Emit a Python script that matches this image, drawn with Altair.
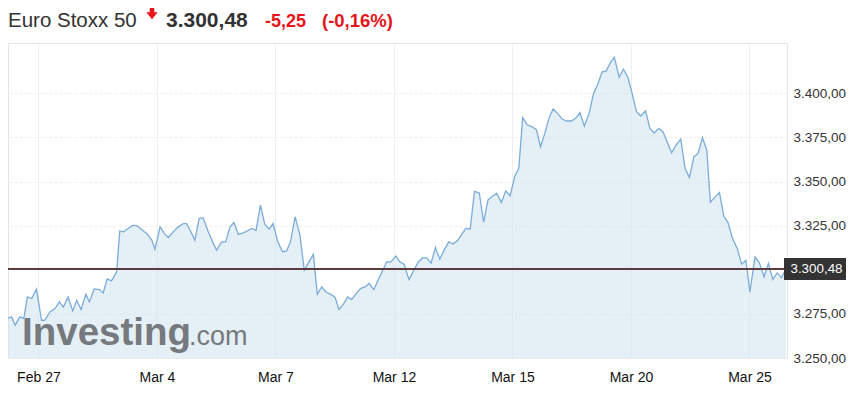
import altair as alt
import pandas as pd

# trading-day position (0 = Feb 27) and price
t = [-0.91, -0.79, -0.68, -0.59, -0.47, -0.37, -0.28, -0.17, -0.05, 0.08,
     0.16, 0.29, 0.42, 0.53, 0.63, 0.75, 0.87, 0.97, 1.08, 1.20,
     1.29, 1.41, 1.54, 1.64, 1.74, 1.85, 1.98, 2.06, 2.16, 2.27,
     2.40, 2.50, 2.61, 2.74, 2.87, 2.95, 3.08, 3.20, 3.29, 3.41,
     3.54, 3.67, 3.75, 3.85, 3.96, 4.07, 4.17, 4.30, 4.41, 4.51,
     4.64, 4.74, 4.85, 4.95, 5.06, 5.16, 5.29, 5.40, 5.51, 5.62,
     5.73, 5.84, 5.94, 6.06, 6.18, 6.28, 6.38, 6.50, 6.62, 6.73,
     6.85, 6.96, 7.06, 7.17, 7.28, 7.40, 7.51, 7.61, 7.72, 7.83,
     7.93, 8.04, 8.16, 8.27, 8.37, 8.49, 8.62, 8.82, 8.92, 9.05,
     9.15, 9.26, 9.38, 9.49, 9.61, 9.72, 9.83, 9.94, 10.05, 10.16,
     10.27, 10.39, 10.50, 10.62, 10.72, 10.82, 10.93, 11.04, 11.16, 11.27,
     11.38, 11.49, 11.60, 11.72, 11.83, 11.94, 12.06, 12.16, 12.26, 12.38,
     12.50, 12.61, 12.71, 12.82, 12.93, 13.03, 13.14, 13.26, 13.37, 13.48,
     13.60, 13.71, 13.82, 13.94, 14.05, 14.16, 14.27, 14.37, 14.47, 14.58,
     14.70, 14.81, 14.92, 15.03, 15.14, 15.25, 15.37, 15.48, 15.59, 15.70,
     15.81, 15.92, 16.03, 16.14, 16.26, 16.37, 16.48, 16.59, 16.70, 16.81,
     16.92, 17.01, 17.13, 17.24, 17.35, 17.46, 17.57, 17.69, 17.80, 17.91,
     18.01, 18.14, 18.25, 18.37, 18.48, 18.59, 18.70, 18.81, 18.92]

price = [3266.7, 3272.4, 3273.3, 3268.6, 3273.3, 3272.4, 3284.6, 3283.7, 3289.0, 3271.4,
         3271.4, 3276.1, 3278.0, 3281.8, 3278.9, 3284.6, 3276.7, 3282.7, 3277.5, 3286.1,
         3281.8, 3289.1, 3288.8, 3286.9, 3294.8, 3293.7, 3298.8, 3322.0, 3321.5, 3323.4,
         3325.3, 3324.9, 3322.8, 3320.6, 3316.8, 3311.7, 3324.3, 3320.2, 3318.3, 3321.5,
         3324.3, 3326.2, 3326.2, 3322.0, 3316.8, 3329.1, 3329.4, 3321.5, 3315.8, 3311.1,
         3315.8, 3315.8, 3324.3, 3326.8, 3320.0, 3320.6, 3322.0, 3323.4, 3322.4, 3336.6,
         3325.8, 3323.0, 3326.2, 3315.8, 3310.2, 3310.5, 3315.8, 3330.0, 3319.6, 3299.8,
         3304.5, 3308.8, 3286.1, 3290.3, 3287.4, 3286.1, 3284.3, 3277.5, 3280.5, 3284.6,
         3283.1, 3286.5, 3289.5, 3290.3, 3292.2, 3288.8, 3295.0, 3304.6, 3304.3, 3307.7,
         3304.5, 3303.0, 3294.4, 3299.1, 3304.2, 3306.7, 3306.7, 3303.7, 3312.6, 3306.0,
         3311.1, 3315.8, 3314.6, 3316.8, 3320.2, 3323.4, 3323.1, 3344.4, 3343.5, 3327.0,
         3339.5, 3341.7, 3343.3, 3338.2, 3344.7, 3341.9, 3353.2, 3357.4, 3386.3, 3382.0,
         3381.0, 3379.2, 3369.7, 3377.3, 3386.2, 3391.1, 3388.6, 3385.4, 3384.3, 3384.3,
         3385.8, 3389.0, 3381.4, 3388.6, 3399.6, 3405.1, 3412.2, 3412.6, 3417.0, 3420.4,
         3409.1, 3413.6, 3409.1, 3400.0, 3389.6, 3387.1, 3390.0, 3380.1, 3377.5, 3380.1,
         3378.2, 3372.3, 3366.3, 3370.7, 3374.1, 3357.4, 3352.3, 3363.9, 3366.0, 3374.8,
         3367.8, 3338.3, 3341.3, 3343.8, 3330.4, 3326.6, 3317.7, 3312.1, 3303.2, 3305.4,
         3287.4, 3307.3, 3303.9, 3296.0, 3303.6, 3294.5, 3298.2, 3295.4, 3300.48]

close = 3300.48
close_label = "3.300,48"
header_name = "Euro Stoxx 50"
header_change = "-5,25"
header_pct = "(-0,16%)"

tick_days = [0, 3, 6, 9, 12, 15, 18]
tick_labels = ["Feb 27", "Mar 4", "Mar 7", "Mar 12", "Mar 15", "Mar 20", "Mar 25"]
y_ticks = [3250, 3275, 3325, 3350, 3375, 3400]

W, H = 779, 315
FONT = "Liberation Sans"
RED = "#e8141b"

df = pd.DataFrame({"t": t, "price": price})
close_df = pd.DataFrame({"close": [close], "lbl": [close_label]})

xscale = alt.Scale(domain=[-0.77, 18.95], nice=False, zero=False)
yscale = alt.Scale(domain=[3250, 3428.5], nice=False, zero=False)

label_arr = "[" + ",".join("'" + s + "'" for s in tick_labels) + "]"
x_axis = alt.Axis(
    values=tick_days,
    labelExpr=label_arr + "[indexof(" + str(tick_days) + ", datum.value)]",
    title=None, domain=False, ticks=False, labelPadding=12,
    labelFontSize=14, labelColor="#111111", labelFont=FONT,
    grid=True, gridColor="#efefef",
)
y_axis = alt.Axis(
    orient="right", values=y_ticks,
    labelExpr="replace(replace(replace(format(datum.value, ',.2f'), ',', '#'), '.', ','), '#', '.')",
    title=None, domain=False, ticks=False, labelPadding=6, labelAlign="left",
    labelBaseline="middle", labelFontSize=13.5, labelColor="#333333", labelFont=FONT,
    grid=True, gridColor="#eeeeee", gridDash=[3, 2],
)

base = alt.Chart(df)
area = base.mark_area(color="#d0e1ee", opacity=0.55, clip=True).encode(
    x=alt.X("t:Q", scale=xscale, axis=x_axis),
    y=alt.Y("price:Q", scale=yscale, axis=y_axis),
    y2=alt.datum(3250),
)
line = base.mark_line(color="#7aacd9", strokeWidth=1.3, clip=True).encode(
    x=alt.X("t:Q", scale=xscale),
    y=alt.Y("price:Q", scale=yscale),
)

wm_df = pd.DataFrame({"a": ["Investing"], "b": [".com"]})
wm1 = alt.Chart(wm_df).mark_text(
    font=FONT, fontSize=38.5, fontWeight="bold", color="#6a6d70", opacity=0.9,
    align="left", baseline="alphabetic"
).encode(x=alt.value(14), y=alt.value(302), text="a:N")
wm2 = alt.Chart(wm_df).mark_text(
    font=FONT, fontSize=27, color="#6a6d70", opacity=0.9,
    align="left", baseline="alphabetic"
).encode(x=alt.value(181), y=alt.value(302), text="b:N")

rule = alt.Chart(close_df).mark_rule(color="#5b3b3b", strokeWidth=2).encode(
    y=alt.Y("close:Q", scale=yscale)
)
box = alt.Chart(close_df).mark_point(
    shape="M-1,-0.355L1,-0.355L1,0.355L-1,0.355Z", size=3844,
    filled=True, fill="#333333", opacity=1, strokeWidth=0
).encode(x=alt.value(807), y=alt.Y("close:Q", scale=yscale))
box_txt = alt.Chart(close_df).mark_text(
    font=FONT, fontSize=13.4, color="white", align="center", baseline="middle"
).encode(x=alt.value(808.5), y=alt.Y("close:Q", scale=yscale), text="lbl:N")

hdr = pd.DataFrame({"name": [header_name], "last": [close_label],
                    "chg": [header_change], "pct": [header_pct]})
h_name = alt.Chart(hdr).mark_text(
    font=FONT, fontSize=20.5, color="#333333", align="left", baseline="alphabetic"
).encode(x=alt.value(0), y=alt.value(-16), text="name:N")
h_arrow = alt.Chart(hdr).mark_point(
    shape="M-0.4,-1L0.4,-1L0.4,-0.2L1,-0.2L0,1L-1,-0.2L-0.4,-0.2Z", size=130,
    filled=True, fill=RED, opacity=1, strokeWidth=0
).encode(x=alt.value(144), y=alt.value(-29.5))
h_last = alt.Chart(hdr).mark_text(
    font=FONT, fontSize=21, fontWeight="bold", color="#333333", align="left", baseline="alphabetic"
).encode(x=alt.value(158), y=alt.value(-16), text="last:N")
h_chg = alt.Chart(hdr).mark_text(
    font=FONT, fontSize=18, fontWeight="bold", color=RED, align="left", baseline="alphabetic"
).encode(x=alt.value(257), y=alt.value(-16.5), text="chg:N")
h_pct = alt.Chart(hdr).mark_text(
    font=FONT, fontSize=18.5, fontWeight="bold", color=RED, align="left", baseline="alphabetic"
).encode(x=alt.value(314), y=alt.value(-16.5), text="pct:N")

chart = alt.layer(
    area, wm1, wm2, line, rule, box, box_txt, h_name, h_arrow, h_last, h_chg, h_pct
).properties(
    width=W, height=H,
    autosize=alt.AutoSizeParams(type="none"),
    padding={"left": 0, "top": 35, "right": 64, "bottom": 36},
).configure_view(stroke="#e4e4ec", strokeWidth=1)

chart.save("out.html", embed_options={"renderer": "svg", "actions": False})
